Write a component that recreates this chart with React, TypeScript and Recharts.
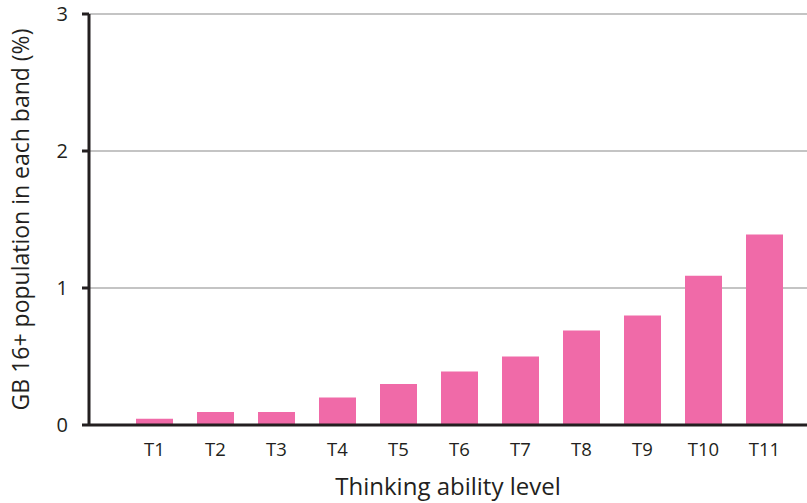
import { BarChart, Bar, XAxis, YAxis, CartesianGrid } from 'recharts'

const levels = ['T1', 'T2', 'T3', 'T4', 'T5', 'T6', 'T7', 'T8', 'T9', 'T10', 'T11']
const shares = [0.045, 0.095, 0.095, 0.2, 0.3, 0.39, 0.5, 0.69, 0.8, 1.09, 1.39]
const yTicks = [0, 1, 2, 3]

const data = levels.map((name, i) => ({ name, value: shares[i] }))

const INK = '#231f20'
const FONT = '"Open Sans", sans-serif'

export default function App() {
  return (
    <div style={{ position: 'absolute', left: 0, top: 0, width: 807, height: 503, background: '#fff', fontFamily: FONT }}>
      <BarChart width={807} height={503} data={data} margin={{ top: 14, right: 0, left: 0, bottom: 0 }}>
        <CartesianGrid vertical={false} stroke="#b0b0b0" strokeWidth={1.5} />
        <XAxis
          dataKey="name"
          height={78}
          padding={{ left: 35, right: 12 }}
          axisLine={{ stroke: INK, strokeWidth: 3 }}
          tickLine={false}
          tickSize={0}
          tickMargin={18}
          tick={{ fill: INK, fontSize: 18.5, fontFamily: FONT }}
          label={{ value: 'Thinking ability level', position: 'insideBottom', offset: 8, style: { fill: INK, fontSize: 24, fontFamily: FONT } }}
        />
        <YAxis
          width={89}
          domain={[0, 3]}
          ticks={yTicks}
          axisLine={{ stroke: INK, strokeWidth: 3 }}
          tickLine={{ stroke: INK, strokeWidth: 3 }}
          tickSize={7}
          tickMargin={14}
          tick={{ fill: INK, fontSize: 20, fontFamily: FONT }}
          label={{
            value: 'GB 16+ population in each band (%)',
            angle: -90,
            position: 'insideLeft',
            offset: 21,
            style: { textAnchor: 'middle', fill: INK, fontSize: 23, fontFamily: FONT },
          }}
        />
        <Bar dataKey="value" fill="#f06aa8" barSize={37} isAnimationActive={false} />
      </BarChart>
    </div>
  )
}
